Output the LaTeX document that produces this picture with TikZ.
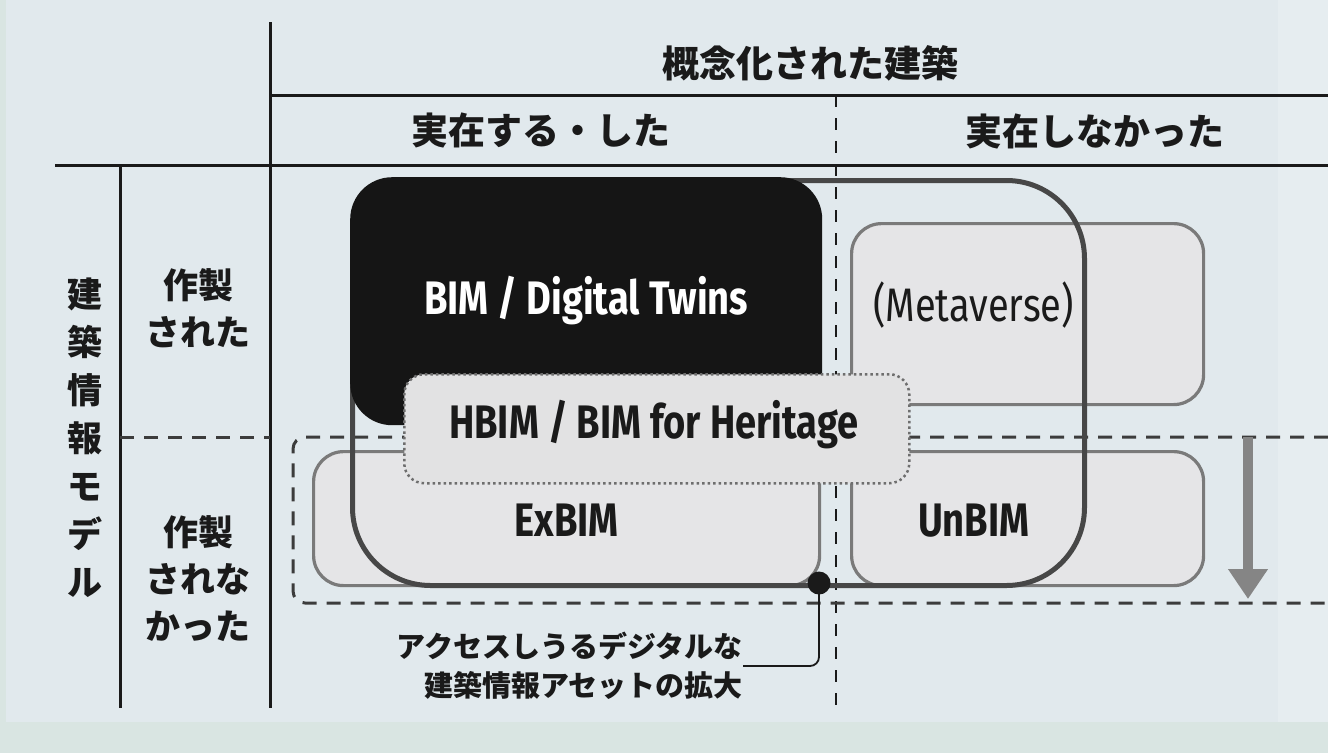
\documentclass[tikz,border=0pt]{standalone}
\usepackage{fontspec}
\newfontfamily\jpfont{Noto Sans CJK JP}
\newfontfamily\enfont{Fira Sans}[FakeStretch=0.81]
\usetikzlibrary{positioning,arrows.meta}
\definecolor{bgouter}{HTML}{D9E5E2}
\definecolor{bgpanel}{HTML}{E1E9ED}
\definecolor{bgfade}{HTML}{E6EDF0}
\definecolor{boxfill}{HTML}{E5E5E7}
\definecolor{boxline}{HTML}{7A7A7A}
\definecolor{hbimfill}{HTML}{E2E2E3}
\definecolor{frameline}{HTML}{474747}
\definecolor{arrowgray}{HTML}{858585}
\definecolor{inkdark}{HTML}{1A1A1A}

\begin{document}
\begin{tikzpicture}[x=1pt, y=-1pt,
    rule/.style={line width=3pt, draw=inkdark},
    ruledash/.style={line width=3pt, draw=inkdark!85, dash pattern=on 14pt off 10pt},
    coldash/.style={line width=2.5pt, draw=inkdark, dash pattern=on 12pt off 11pt},
    jphead/.style={font={\jpfont\bfseries\fontsize{37}{42}\selectfont}, text=inkdark, inner sep=0pt},
    jprow/.style={font={\jpfont\bfseries\fontsize{35}{47}\selectfont}, align=center, text=inkdark, inner sep=0pt},
    jpnote/.style={font={\jpfont\bfseries\fontsize{29}{39}\selectfont}, align=right, text=inkdark, inner sep=0pt},
    enlbl/.style={font={\enfont\bfseries\fontsize{47}{52}\selectfont}, text=inkdark, inner sep=0pt},
    subbox/.style={draw=boxline, line width=3.2pt, fill=boxfill, rounded corners=30pt,
                   anchor=north west, inner sep=0pt},
    bimbox/.style={fill=inkdark!80!black, rounded corners=42pt, anchor=north west, inner sep=0pt},
    hbimbox/.style={draw=boxline!90!black, line width=2.5pt, fill=hbimfill, dotted,
                    dash pattern=on 2.5pt off 3pt, rounded corners=20pt, anchor=north west, inner sep=0pt},
    bigframe/.style={draw=frameline, line width=5pt, rounded corners=78pt,
                     anchor=north west, inner sep=0pt}]

% background
\useasboundingbox (0,0) rectangle (1328,753);
\fill[bgouter] (0,0) rectangle (1328,753);
\fill[bgpanel] (6,0) rectangle (1278,722);
\fill[bgfade] (1278,0) rectangle (1328,722);

% table rules
\draw[rule] (270,22) -- (270,708);
\draw[rule] (270,95) -- (1328,95);
\draw[rule] (55,165) -- (1328,165);
\draw[rule] (120,165) -- (120,708);
\draw[coldash] (836,95) -- (836,708);
\draw[ruledash] (120,437) -- (270,437);
\draw[ruledash, rounded corners=12pt] (1328,437) -- (293,437) -- (293,603) -- (1328,603);

% boxes
\node[subbox, minimum width=352pt, minimum height=181pt] (meta) at (850,222) {};
\node[subbox, minimum width=506pt, minimum height=134pt] (exbim) at (312,450) {};
\node[subbox, minimum width=352pt, minimum height=134pt] (unbim) at (850,450) {};
\node[bigframe, minimum width=732pt, minimum height=405pt] (frame) at (350,178) {};
\node[bimbox, minimum width=472pt, minimum height=248pt] (bim) at (350,177) {};
\node[hbimbox, minimum width=505pt, minimum height=109pt] (hbim) at (403,373) {};

% box labels
\node[enlbl, text=white] (bimtxt) at ([yshift=1pt]bim.center) {BIM / Digital Twins};
\node[enlbl, font={\enfont\fontsize{47}{52}\selectfont}, right=23pt of meta.west, yshift=9pt] (metatxt) {(Metaverse)};
\node[enlbl] (hbimtxt) at ([xshift=-3pt,yshift=4pt]hbim.center) {HBIM / BIM for Heritage};
\node[enlbl] (exbimtxt) at ([yshift=-2pt]exbim.center) {ExBIM};
\node[enlbl, right=68pt of unbim.west, yshift=-2pt] (unbimtxt) {UnBIM};

% headings
\node[jphead] (concept) at (810,63) {概念化された建築};
\node[jphead] (real) at (541,130) {実在する・した};
\node[jphead] (unreal) at (1095,131) {実在しなかった};
\node[jprow, font={\jpfont\bfseries\fontsize{35}{48}\selectfont}] (bimv) at (85,438) {建\\築\\情\\報\\モ\\デ\\ル};
\node[jprow] (made) at (198,308) {作製\\された};
\node[jprow] (notmade) at (198,579) {作製\\されな\\かった};

% access note
\node[circle, fill=inkdark, minimum size=23pt, inner sep=0pt] (dot) at (819,583) {};
\node[jpnote, anchor=east] (note) at (743,666) {アクセスしうるデジタルな\\建築情報アセットの拡大};
\draw[line width=1.8pt, draw=inkdark, rounded corners=9pt] (dot.center) |- (note.east);

% growth arrow
\coordinate (arrtop) at (1248,437);
\coordinate (arrtip) at (1248,599);
\draw[line width=10pt, draw=arrowgray, -{Triangle[width=38pt, length=30pt]}] (arrtop) -- (arrtip);
\end{tikzpicture}
\end{document}
